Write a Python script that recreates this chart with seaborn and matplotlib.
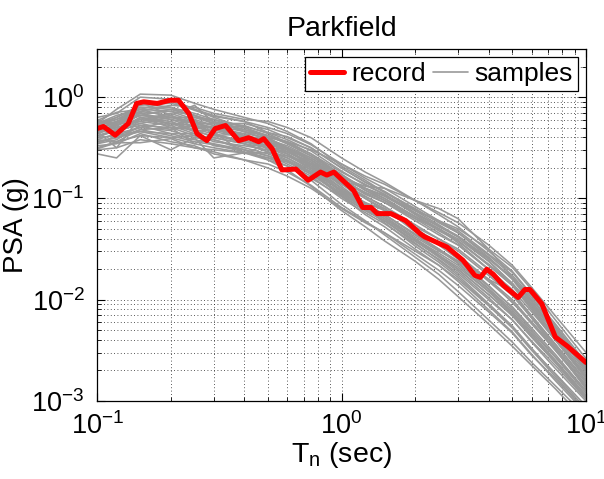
import matplotlib
matplotlib.use("Agg")
import matplotlib.pyplot as plt
import pandas as pd
import seaborn as sns
from matplotlib.lines import Line2D

# Recorded ground motion spectrum (period in sec, PSA in g)
record_period = [0.100, 0.106, 0.1185, 0.134, 0.145, 0.155, 0.176, 0.199, 0.215,
                 0.237, 0.256, 0.281, 0.304, 0.335, 0.379, 0.417, 0.458, 0.48,
                 0.52, 0.57, 0.65, 0.73, 0.82, 0.87, 0.93, 0.99, 1.12, 1.22,
                 1.32, 1.40, 1.59, 1.83, 2.10, 2.19, 2.70, 3.14, 3.51, 3.70,
                 3.93, 4.18, 4.60, 5.28, 5.63, 5.90, 6.60, 7.50, 8.40, 10.0]
record_psa = [0.490, 0.513, 0.421, 0.550, 0.867, 0.900, 0.867, 0.933, 0.933,
              0.692, 0.437, 0.372, 0.490, 0.525, 0.372, 0.398, 0.363, 0.389,
              0.309, 0.191, 0.195, 0.151, 0.182, 0.170, 0.182, 0.158, 0.120,
              0.0813, 0.0813, 0.0708, 0.0708, 0.0603, 0.0447, 0.0417, 0.0331,
              0.0245, 0.0174, 0.0166, 0.0200, 0.0178, 0.0138, 0.0105, 0.0126,
              0.0126, 0.00912, 0.00427, 0.00347, 0.00240]

# Simulated sample spectra, log10(PSA)
sample_period = [0.1, 0.12, 0.15, 0.2, 0.25, 0.3, 0.4, 0.5, 0.6, 0.75, 1.0,
                 1.25, 1.5, 2.0, 2.5, 3.0, 4.0, 5.0, 6.0, 7.5, 10.0]
samples_log_psa = [
    [-0.23, -0.15, -0.12, -0.04, -0.13, -0.19, -0.24, -0.35, -0.39, -0.50, -0.70, -0.84, -0.93, -1.11, -1.23, -1.32, -1.55, -1.73, -1.96, -2.24, -2.62],
    [-0.51, -0.45, -0.45, -0.41, -0.50, -0.54, -0.62, -0.66, -0.74, -0.87, -1.09, -1.23, -1.34, -1.55, -1.71, -1.86, -2.12, -2.33, -2.55, -2.78, -3.10],
    [-0.30, -0.36, -0.15, -0.28, -0.22, -0.38, -0.36, -0.52, -0.50, -0.70, -0.85, -1.05, -1.10, -1.33, -1.43, -1.58, -1.80, -2.03, -2.22, -2.50, -2.86],
    [-0.20, -0.16, 0.00, -0.02, -0.12, -0.20, -0.30, -0.40, -0.52, -0.68, -0.93, -1.10, -1.24, -1.47, -1.63, -1.78, -2.05, -2.27, -2.49, -2.73, -3.05],
    [-0.52, -0.50, -0.42, -0.46, -0.50, -0.52, -0.55, -0.55, -0.58, -0.66, -0.82, -0.90, -0.97, -1.12, -1.22, -1.30, -1.50, -1.68, -1.90, -2.20, -2.58],
    [-0.32, -0.28, -0.18, -0.20, -0.26, -0.30, -0.38, -0.42, -0.50, -0.62, -0.80, -0.88, -0.90, -1.02, -1.10, -1.20, -1.50, -1.78, -2.02, -2.32, -2.70],
    [-0.56, -0.60, -0.38, -0.52, -0.40, -0.60, -0.55, -0.62, -0.68, -0.80, -0.98, -1.12, -1.22, -1.42, -1.58, -1.72, -1.98, -2.20, -2.42, -2.68, -3.00],
    [-0.22, -0.30, -0.05, -0.18, -0.08, -0.25, -0.28, -0.36, -0.45, -0.56, -0.77, -0.90, -1.00, -1.18, -1.30, -1.42, -1.65, -1.84, -2.05, -2.33, -2.70],
    [-0.42, -0.36, -0.30, -0.33, -0.40, -0.42, -0.50, -0.56, -0.63, -0.76, -0.97, -1.12, -1.22, -1.42, -1.57, -1.70, -1.95, -2.15, -2.37, -2.62, -2.96],
    [-0.34, -0.27, -0.24, -0.18, -0.30, -0.30, -0.40, -0.44, -0.50, -0.60, -0.78, -0.90, -0.98, -1.15, -1.28, -1.38, -1.60, -1.79, -2.02, -2.30, -2.68],
    [-0.44, -0.40, -0.32, -0.38, -0.44, -0.47, -0.54, -0.60, -0.68, -0.82, -1.06, -1.22, -1.36, -1.58, -1.75, -1.92, -2.20, -2.42, -2.62, -2.85, -3.15],
    [-0.28, -0.20, -0.08, -0.06, -0.12, -0.18, -0.24, -0.30, -0.36, -0.47, -0.66, -0.80, -0.90, -1.08, -1.22, -1.34, -1.58, -1.80, -2.04, -2.32, -2.68],
    [-0.38, -0.34, -0.20, -0.30, -0.46, -0.36, -0.44, -0.50, -0.58, -0.70, -0.90, -1.05, -1.16, -1.35, -1.50, -1.62, -1.87, -2.07, -2.28, -2.54, -2.90],
    [-0.30, -0.25, -0.16, -0.14, -0.22, -0.28, -0.34, -0.42, -0.48, -0.60, -0.80, -0.95, -1.04, -1.22, -1.36, -1.46, -1.70, -1.90, -2.12, -2.40, -2.76],
    [-0.50, -0.44, -0.38, -0.40, -0.46, -0.50, -0.55, -0.60, -0.64, -0.74, -0.92, -1.04, -1.12, -1.30, -1.44, -1.56, -1.80, -2.00, -2.22, -2.48, -2.84],
    [-0.26, -0.22, -0.10, -0.12, -0.18, -0.24, -0.32, -0.40, -0.50, -0.64, -0.88, -1.06, -1.18, -1.40, -1.56, -1.70, -1.95, -2.16, -2.37, -2.62, -2.95],
    [-0.34, -0.50, -0.20, -0.26, -0.28, -0.34, -0.56, -0.46, -0.54, -0.66, -0.86, -1.00, -1.12, -1.30, -1.44, -1.56, -1.82, -2.02, -2.24, -2.50, -2.85],
    [-0.30, -0.26, -0.18, -0.22, -0.26, -0.30, -0.36, -0.40, -0.44, -0.52, -0.66, -0.78, -0.86, -1.02, -1.14, -1.24, -1.46, -1.66, -1.88, -2.16, -2.52],
    [-0.36, -0.30, -0.24, -0.28, -0.36, -0.42, -0.52, -0.62, -0.72, -0.88, -1.12, -1.28, -1.42, -1.62, -1.80, -1.97, -2.24, -2.46, -2.65, -2.88, -3.20],
    [-0.28, -0.24, -0.12, -0.20, -0.24, -0.28, -0.38, -0.44, -0.52, -0.66, -0.90, -1.06, -1.16, -1.36, -1.51, -1.64, -1.89, -2.10, -2.32, -2.57, -2.92],
    [-0.26, -0.12, 0.03, 0.02, -0.06, -0.12, -0.20, -0.26, -0.34, -0.46, -0.68, -0.82, -0.94, -1.12, -1.26, -1.38, -1.62, -1.84, -2.06, -2.36, -2.72],
    [-0.40, -0.32, -0.28, -0.30, -0.32, -0.40, -0.46, -0.54, -0.62, -0.74, -0.95, -1.08, -1.18, -1.38, -1.52, -1.62, -1.80, -1.92, -2.18, -2.48, -2.88],
    [-0.26, -0.20, -0.10, -0.10, -0.16, -0.22, -0.29, -0.35, -0.42, -0.53, -0.73, -0.87, -0.96, -1.14, -1.27, -1.37, -1.59, -1.78, -2.00, -2.28, -2.66],
    [-0.44, -0.40, -0.34, -0.36, -0.42, -0.46, -0.52, -0.58, -0.66, -0.78, -1.00, -1.14, -1.25, -1.45, -1.60, -1.74, -2.00, -2.20, -2.41, -2.65, -2.98],
    [-0.28, -0.22, -0.14, -0.08, -0.10, -0.16, -0.22, -0.24, -0.30, -0.40, -0.60, -0.74, -0.84, -1.02, -1.16, -1.28, -1.52, -1.72, -1.95, -2.26, -2.64],
    [-0.34, -0.30, -0.26, -0.20, -0.20, -0.26, -0.30, -0.38, -0.46, -0.58, -0.76, -0.92, -1.02, -1.20, -1.34, -1.46, -1.70, -1.92, -2.16, -2.44, -2.80],
    [-0.40, -0.38, -0.30, -0.24, -0.34, -0.38, -0.44, -0.48, -0.56, -0.68, -0.86, -0.98, -1.08, -1.26, -1.40, -1.52, -1.76, -1.96, -2.18, -2.46, -2.82],
    [-0.24, -0.26, -0.06, -0.10, -0.20, -0.22, -0.34, -0.38, -0.44, -0.56, -0.74, -0.86, -0.96, -1.16, -1.30, -1.44, -1.70, -1.94, -2.18, -2.48, -2.86],
    [-0.46, -0.42, -0.28, -0.36, -0.36, -0.44, -0.48, -0.52, -0.60, -0.72, -0.92, -1.06, -1.16, -1.36, -1.50, -1.64, -1.90, -2.12, -2.34, -2.60, -2.95],
    [-0.32, -0.30, -0.22, -0.16, -0.24, -0.32, -0.40, -0.48, -0.56, -0.70, -0.94, -1.10, -1.22, -1.44, -1.61, -1.76, -2.04, -2.26, -2.48, -2.74, -3.08],
    [-0.36, -0.28, -0.16, -0.22, -0.30, -0.34, -0.40, -0.46, -0.52, -0.62, -0.82, -0.96, -1.04, -1.20, -1.30, -1.40, -1.62, -1.84, -2.08, -2.38, -2.76],
    [-0.30, -0.34, -0.26, -0.32, -0.28, -0.30, -0.42, -0.50, -0.56, -0.72, -0.92, -1.08, -1.20, -1.40, -1.56, -1.68, -1.92, -2.13, -2.34, -2.60, -2.94],
    [-0.48, -0.46, -0.36, -0.44, -0.48, -0.56, -0.62, -0.70, -0.78, -0.90, -1.10, -1.24, -1.34, -1.52, -1.66, -1.80, -2.06, -2.28, -2.50, -2.76, -3.10],
    [-0.26, -0.18, -0.12, -0.14, -0.18, -0.26, -0.26, -0.32, -0.40, -0.50, -0.70, -0.84, -0.94, -1.10, -1.24, -1.34, -1.56, -1.76, -1.98, -2.28, -2.66],
    [-0.38, -0.32, -0.22, -0.26, -0.34, -0.32, -0.38, -0.44, -0.54, -0.66, -0.84, -0.98, -1.08, -1.28, -1.40, -1.50, -1.74, -1.94, -2.16, -2.44, -2.80],
    [-0.32, -0.24, -0.18, -0.12, -0.18, -0.24, -0.34, -0.42, -0.50, -0.62, -0.84, -1.00, -1.10, -1.30, -1.46, -1.60, -1.86, -2.08, -2.30, -2.56, -2.90],
    [-0.42, -0.44, -0.32, -0.30, -0.38, -0.40, -0.46, -0.50, -0.54, -0.64, -0.82, -0.94, -1.02, -1.18, -1.30, -1.42, -1.66, -1.86, -2.08, -2.38, -2.74],
    [-0.28, -0.32, -0.20, -0.24, -0.32, -0.36, -0.46, -0.54, -0.60, -0.74, -0.98, -1.16, -1.28, -1.50, -1.66, -1.82, -2.10, -2.32, -2.54, -2.80, -3.12],
    [-0.36, -0.26, -0.14, -0.18, -0.26, -0.26, -0.32, -0.38, -0.46, -0.58, -0.78, -0.92, -1.00, -1.18, -1.32, -1.42, -1.66, -1.86, -2.10, -2.40, -2.78],
    [-0.46, -0.38, -0.34, -0.40, -0.38, -0.48, -0.52, -0.58, -0.64, -0.76, -0.96, -1.10, -1.20, -1.40, -1.54, -1.66, -1.92, -2.14, -2.36, -2.62, -2.98],
]

GRAY = "#999999"
RED = "#ff0000"


def _samples_frame() -> pd.DataFrame:
    rows = []
    for i, curve in enumerate(samples_log_psa):
        for t, v in zip(sample_period, curve):
            rows.append({"sample": i, "period": t, "psa": 10 ** v})
    return pd.DataFrame(rows)


def plot_spectra() -> None:
    sns.set_style("ticks")
    plt.rcParams["font.family"] = ["Liberation Sans", "DejaVu Sans"]
    plt.rcParams["mathtext.fontset"] = "custom"
    plt.rcParams["mathtext.rm"] = "Liberation Sans"
    plt.rcParams["mathtext.it"] = "Liberation Sans"
    for key in ["text.color", "axes.labelcolor", "xtick.color", "ytick.color"]:
        plt.rcParams[key] = "black"

    fig, ax = plt.subplots(figsize=(6.04, 4.79), dpi=100)
    fig.subplots_adjust(left=0.161, right=0.970, bottom=0.163, top=0.898)

    df_samples = _samples_frame()
    sns.lineplot(data=df_samples, x="period", y="psa", units="sample",
                 estimator=None, color=GRAY, linewidth=1.15, legend=False, ax=ax)
    df_record = pd.DataFrame({"period": record_period, "psa": record_psa})
    sns.lineplot(data=df_record, x="period", y="psa", color=RED,
                 linewidth=3.6, legend=False, ax=ax, sort=False)

    ax.set_xscale("log")
    ax.set_yscale("log")
    ax.set_xlim(0.1, 10)
    ax.set_ylim(1e-3, 3)

    ax.grid(True, which="both", linestyle=(0, (1, 3)), color="#222222",
            linewidth=0.6)
    ax.tick_params(which="both", direction="in", top=True, right=True,
                   labelsize=19.5, colors="black")
    ax.tick_params(axis="x", which="major", pad=8)
    ax.tick_params(axis="y", which="major", pad=9)
    ax.tick_params(which="major", length=6, width=0.8)
    ax.tick_params(which="minor", length=3, width=0.6)
    for spine in ax.spines.values():
        spine.set_color("black")
        spine.set_linewidth(0.9)

    ax.set_xlabel(r"T$_\mathregular{n}$ (sec)", fontsize=20.5, labelpad=0)
    ax.set_ylabel("PSA (g)", fontsize=20, labelpad=2)
    ax.set_title("Parkfield", fontsize=20.5, pad=9)

    handles = [Line2D([], [], color=RED, linewidth=3.6),
               Line2D([], [], color=GRAY, linewidth=1.2)]
    leg = ax.legend(handles, ["record", "samples"], loc="upper right", ncol=2,
                    fontsize=19, frameon=True, fancybox=False, framealpha=1,
                    edgecolor="black", handlelength=1.3, handletextpad=0.25,
                    columnspacing=0.3, borderpad=0.2, borderaxespad=0.3)
    leg.get_frame().set_linewidth(0.9)

    fig.savefig("out.png", dpi=100)


if __name__ == "__main__":
    plot_spectra()
